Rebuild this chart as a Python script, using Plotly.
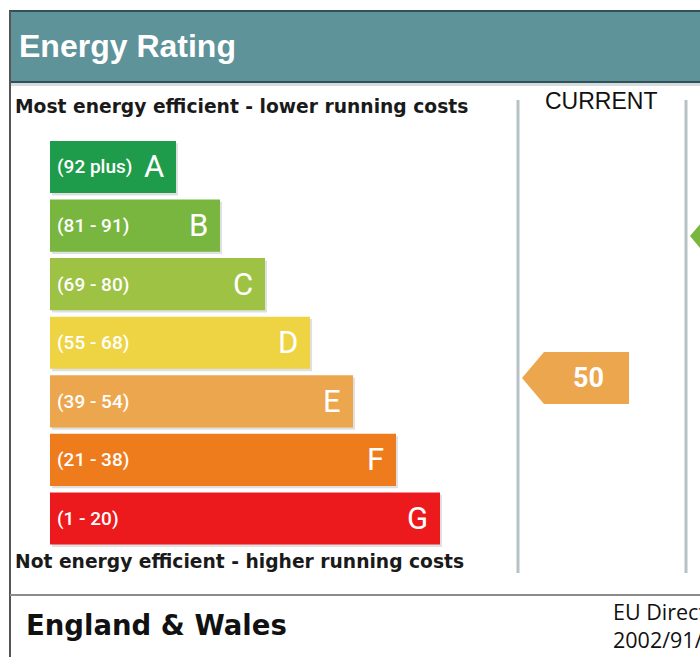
import plotly.graph_objects as go

W, H = 700, 657

# ---- data ----
bands = ["A", "B", "C", "D", "E", "F", "G"]
band_ranges = ["(92 plus)", "(81 - 91)", "(69 - 80)", "(55 - 68)", "(39 - 54)", "(21 - 38)", "(1 - 20)"]
band_low = [92, 81, 69, 55, 39, 21, 1]
band_high = [100, 91, 80, 68, 54, 38, 20]
bar_lengths = [126, 170, 215, 260, 303, 346, 390]
band_colors = ["#1f9c4b", "#78b640", "#9dc244", "#eed443", "#eca64d", "#ef7c1c", "#ec1a1d"]
current_rating = 50
potential_rating = 81
title_text = "Energy Rating"
top_note = "Most energy efficient - lower running costs"
bottom_note = "Not energy efficient - higher running costs"
column_header = "CURRENT"
region_text = "England & Wales"
directive_text = "EU Directive<br>2002/91/EC"

BAR_BASE = 50
COL_LEFT = [518, 686]


def px(x):
    return x / W


def py(y):
    return 1 - y / H


def band_of(v):
    for i in range(len(bands)):
        if band_low[i] <= v <= band_high[i]:
            return i
    return len(bands) - 1


fig = go.Figure()

# shadows
fig.add_trace(go.Bar(
    y=bands, x=bar_lengths, base=BAR_BASE + 2, orientation="h",
    marker=dict(color="rgba(0,0,0,0.12)", line=dict(width=0)),
    width=0.89, offset=-0.445 + 0.04, hoverinfo="skip", showlegend=False,
))
# bars
fig.add_trace(go.Bar(
    y=bands, x=bar_lengths, base=BAR_BASE, orientation="h",
    marker=dict(color=band_colors, line=dict(width=0)),
    width=0.89, offset=-0.445, hoverinfo="skip", showlegend=False,
))
# invisible trace to activate score axis
fig.add_trace(go.Scatter(x=[None], y=[None], yaxis="y2", showlegend=False))

annotations = []
for i, b in enumerate(bands):
    annotations.append(dict(
        x=BAR_BASE + 5, y=b, xref="x", yref="y", text=band_ranges[i],
        xanchor="left", yanchor="middle", showarrow=False,
        font=dict(family="Roboto", size=19, color="white", weight=500),
    ))
    annotations.append(dict(
        x=BAR_BASE + bar_lengths[i] - 10, y=b, xref="x", yref="y", text=b,
        xanchor="right", yanchor="middle", showarrow=False,
        font=dict(family="Roboto", size=31, color="white", weight=400),
    ))

shapes = []
# header band
shapes.append(dict(type="rect", xref="paper", yref="paper",
                   x0=px(10), x1=px(702), y0=py(82), y1=py(11),
                   fillcolor="#5e939a", line=dict(color="#2f5157", width=2), layer="below"))
shapes.append(dict(type="line", xref="paper", yref="paper",
                   x0=px(11), x1=px(700), y0=py(84.5), y1=py(84.5),
                   line=dict(color="#d6dcdd", width=3), layer="below"))
# left border
shapes.append(dict(type="line", xref="paper", yref="paper",
                   x0=px(10), x1=px(10), y0=py(11), y1=py(657),
                   line=dict(color="#555555", width=2)))
# bottom separator
shapes.append(dict(type="line", xref="paper", yref="paper",
                   x0=px(10), x1=px(700), y0=py(595), y1=py(595),
                   line=dict(color="#8c8c8c", width=2)))
# column lines
for cx in COL_LEFT:
    shapes.append(dict(type="line", xref="paper", yref="paper",
                       x0=px(cx), x1=px(cx), y0=py(100), y1=py(573),
                       line=dict(color="#b7c2c6", width=3)))

# rating arrows on score axis
ARROW_HALF = 5.7
for k, val in enumerate([current_rating, potential_rating]):
    bi = band_of(val)
    tip = COL_LEFT[k] + 4
    neck = tip + 22
    end = tip + 107
    path = (f"M {tip},{val} L {neck},{val + ARROW_HALF} L {end},{val + ARROW_HALF} "
            f"L {end},{val - ARROW_HALF} L {neck},{val - ARROW_HALF} Z")
    shapes.append(dict(type="path", xref="x", yref="y2", path=path,
                       fillcolor=band_colors[bi], line=dict(width=0)))
    if end <= W:
        annotations.append(dict(
            x=(neck + end) / 2 + 2, y=val, xref="x", yref="y2", text=f"<b>{val}</b>",
            xanchor="center", yanchor="middle", showarrow=False,
            font=dict(family="Roboto", size=27, color="white"),
        ))

# texts
annotations += [
    dict(x=px(17), y=py(46), xref="paper", yref="paper", text=f"<b>{title_text}</b>",
         xanchor="left", yanchor="middle", showarrow=False,
         font=dict(family="Liberation Sans", size=32, color="white")),
    dict(x=px(13), y=py(107), xref="paper", yref="paper", text=f"<b>{top_note}</b>",
         xanchor="left", yanchor="middle", showarrow=False,
         font=dict(family="DejaVu Sans", size=18.7, color="#1a1a1a")),
    dict(x=px(13), y=py(561), xref="paper", yref="paper", text=f"<b>{bottom_note}</b>",
         xanchor="left", yanchor="middle", showarrow=False,
         font=dict(family="DejaVu Sans", size=18.7, color="#1a1a1a")),
    dict(x=px(601), y=py(101), xref="paper", yref="paper", text=column_header,
         xanchor="center", yanchor="middle", showarrow=False,
         font=dict(family="Liberation Sans", size=23, color="#111111")),
    dict(x=px(24), y=py(625), xref="paper", yref="paper", text=f"<b>{region_text}</b>",
         xanchor="left", yanchor="middle", showarrow=False,
         font=dict(family="DejaVu Sans", size=27.5, color="#111111")),
    dict(x=px(611), y=py(625), xref="paper", yref="paper", text=directive_text,
         xanchor="left", yanchor="middle", align="left", showarrow=False,
         font=dict(family="Open Sans", size=21.5, color="#111111")),
]

# score axis scale: py = 378 - (s - 50) * K, over the domain of yaxis
K = 4.58
dom_top_px, dom_bot_px = 137.7, 547.8
s_top = 50 + (378 - dom_top_px) / K
s_bot = 50 - (dom_bot_px - 378) / K

fig.update_layout(
    width=W, height=H,
    margin=dict(l=0, r=0, t=0, b=0),
    paper_bgcolor="white", plot_bgcolor="white",
    barmode="overlay",
    xaxis=dict(range=[0, W], domain=[0, 1], visible=False, fixedrange=True),
    yaxis=dict(type="category", categoryorder="array", categoryarray=bands,
               range=[6.5, -0.5], domain=[1 - dom_bot_px / H, 1 - dom_top_px / H],
               visible=False, fixedrange=True),
    yaxis2=dict(overlaying="y", range=[s_bot, s_top], visible=False, fixedrange=True),
    shapes=shapes,
    annotations=annotations,
    showlegend=False,
)

fig.write_html("out.html", config={"displayModeBar": False},
               post_script="document.body.style.margin='0';document.body.style.overflow='hidden';")
